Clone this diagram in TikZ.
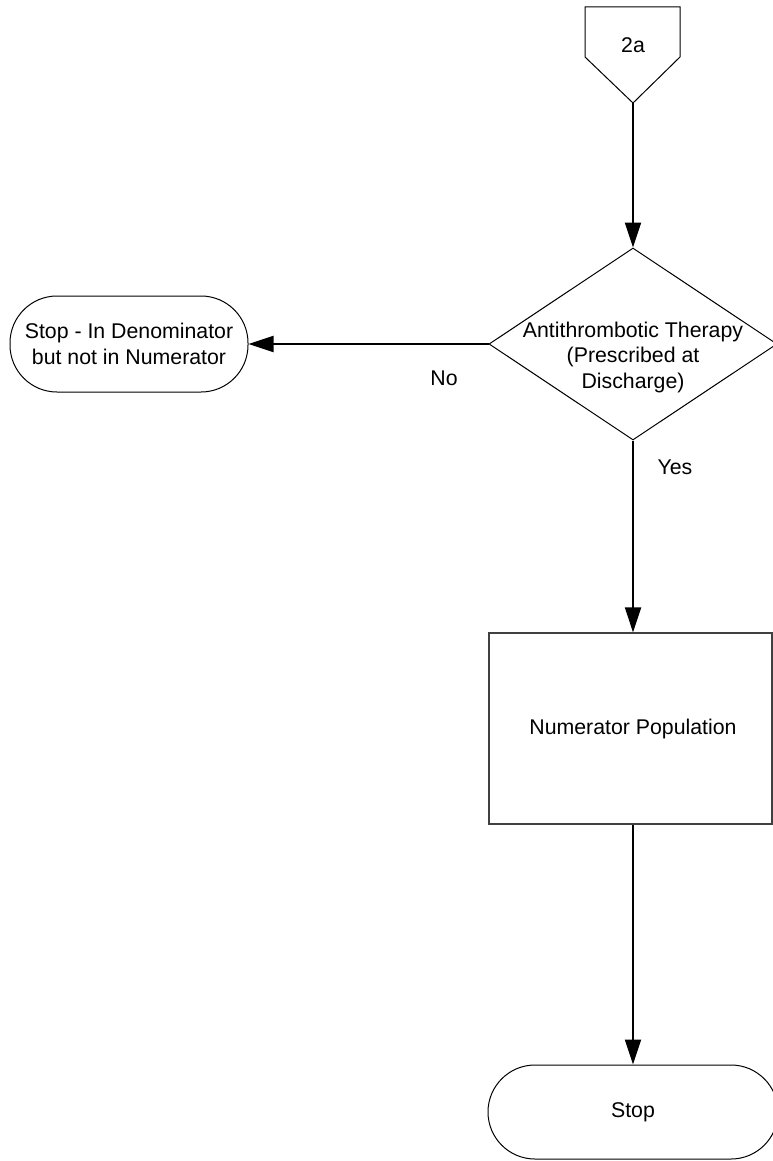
\documentclass[tikz,border=0pt]{standalone}
\usepackage{fontspec}
\setmainfont{Liberation Sans}
\usetikzlibrary{shapes.geometric,arrows.meta}

\tikzset{
  every node/.style={font=\fontsize{21.3}{25.5}\selectfont, align=center},
  shapeline/.style={draw=black, line width=1pt},
  terminal/.style={shapeline, rectangle, rounded corners=47pt, inner sep=0pt},
  process/.style={draw=black!75, line width=1.2pt, rectangle, inner sep=0pt},
  decision/.style={shapeline, diamond, inner sep=0pt},
  flow/.style={line width=2pt, -{Triangle[length=25pt,width=16pt]}},
  lbl/.style={inner sep=0pt}
}

\begin{document}
\begin{tikzpicture}[x=1pt, y=-1pt]
  \useasboundingbox (0,0) rectangle (773,1161);
  \clip (0,0) rectangle (773,1161);

  % off-page connector 2a
  \draw[shapeline] (585,7) -- (680,7) -- (680,57) -- (633,103) -- (585,57) -- cycle;
  \node[lbl] (off) at (633,45) {2a};
  \coordinate (offtip) at (633,103);

  % decision
  \node[decision, minimum width=288pt, minimum height=192pt] (dec) at (633,344) {};
  \node[lbl] (dectext) at (633,357) {Antithrombotic Therapy\\(Prescribed at\\Discharge)};

  % left terminal
  \node[terminal, minimum width=238pt, minimum height=96pt] (stopno) at (129,344)
    {Stop - In Denominator\\but not in Numerator};

  % numerator box
  \node[process, minimum width=283pt, minimum height=191pt] (num) at (630.5,728.5)
    {\hspace*{5pt}Numerator Population};

  % final terminal
  \node[terminal, minimum width=290pt, minimum height=94pt] (stop) at (633,1112) {Stop};

  % connectors
  \draw[flow] (offtip) -- (dec.north);
  \draw[flow] (dec.west) -- (stopno.east);
  \draw[flow] (dec.south) -- (dec.south |- num.north);
  \draw[flow] (dec.south |- num.south) -- (stop.north);

  % branch labels
  \node[lbl] (no) at (444,378) {No};
  \node[lbl] (yes) at (675,467) {Yes};
\end{tikzpicture}
\end{document}
